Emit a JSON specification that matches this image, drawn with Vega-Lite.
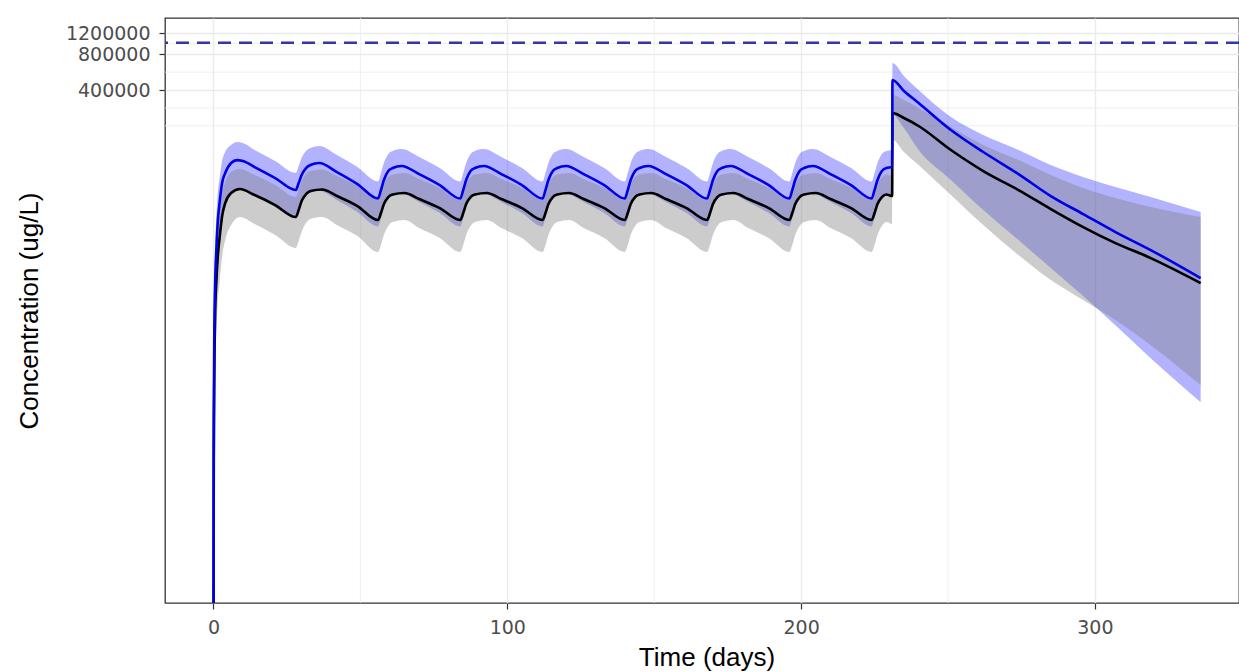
{
  "$schema": "https://vega.github.io/schema/vega-lite/v6.json",
  "width": 1074,
  "height": 585,
  "autosize": {"type": "none"},
  "padding": {"left": 165, "top": 18, "right": 0, "bottom": 69},
  "background": "white",
  "datasets": {
    "conc": [
      {"t":0,"g":"test","m":1,"lo":1,"hi":1},
      {"t":0.1,"g":"test","m":667,"lo":253,"hi":1448},
      {"t":0.3,"g":"test","m":3816,"lo":1448,"hi":8287},
      {"t":0.6,"g":"test","m":10060,"lo":3816,"hi":19820},
      {"t":1,"g":"test","m":18710,"lo":6826,"hi":35460},
      {"t":1.5,"g":"test","m":32190,"lo":12210,"hi":55390},
      {"t":2,"g":"test","m":43040,"lo":17990,"hi":69900},
      {"t":3,"g":"test","m":67220,"lo":30960,"hi":102900},
      {"t":4,"g":"test","m":80100,"lo":40620,"hi":120300},
      {"t":6,"g":"test","m":97200,"lo":53280,"hi":137700},
      {"t":8,"g":"test","m":102900,"lo":59840,"hi":146000},
      {"t":10,"g":"test","m":101000,"lo":58700,"hi":143200},
      {"t":14,"g":"test","m":89900,"lo":52260,"hi":125000},
      {"t":21,"g":"test","m":72650,"lo":41410,"hi":101000},
      {"t":28,"g":"test","m":57580,"lo":33460,"hi":80100},
      {"t":29,"g":"test","m":65930,"lo":38320,"hi":91700},
      {"t":30,"g":"test","m":77000,"lo":44750,"hi":107100},
      {"t":31.5,"g":"test","m":88200,"lo":51260,"hi":122600},
      {"t":33,"g":"test","m":93500,"lo":54320,"hi":129900},
      {"t":36,"g":"test","m":97200,"lo":56470,"hi":135100},
      {"t":42,"g":"test","m":81630,"lo":47420,"hi":113400},
      {"t":49,"g":"test","m":64660,"lo":37580,"hi":89900},
      {"t":56,"g":"test","m":48840,"lo":28380,"hi":67890},
      {"t":57,"g":"test","m":57580,"lo":33460,"hi":80100},
      {"t":58,"g":"test","m":69900,"lo":40620,"hi":97200},
      {"t":59.5,"g":"test","m":83200,"lo":48370,"hi":115700},
      {"t":61,"g":"test","m":88200,"lo":51260,"hi":122600},
      {"t":64,"g":"test","m":91700,"lo":53280,"hi":127400},
      {"t":70,"g":"test","m":78500,"lo":45620,"hi":109100},
      {"t":77,"g":"test","m":63430,"lo":36860,"hi":88200},
      {"t":84,"g":"test","m":48840,"lo":28380,"hi":67890},
      {"t":85,"g":"test","m":57580,"lo":33460,"hi":80100},
      {"t":86,"g":"test","m":69900,"lo":40620,"hi":97200},
      {"t":87.5,"g":"test","m":83200,"lo":48370,"hi":115700},
      {"t":89,"g":"test","m":88200,"lo":51260,"hi":122600},
      {"t":92,"g":"test","m":91700,"lo":53280,"hi":127400},
      {"t":98,"g":"test","m":78500,"lo":45620,"hi":109100},
      {"t":105,"g":"test","m":63430,"lo":36860,"hi":88200},
      {"t":112,"g":"test","m":48840,"lo":28380,"hi":67890},
      {"t":113,"g":"test","m":57580,"lo":33460,"hi":80100},
      {"t":114,"g":"test","m":69900,"lo":40620,"hi":97200},
      {"t":115.5,"g":"test","m":83200,"lo":48370,"hi":115700},
      {"t":117,"g":"test","m":88200,"lo":51260,"hi":122600},
      {"t":120,"g":"test","m":91700,"lo":53280,"hi":127400},
      {"t":126,"g":"test","m":78500,"lo":45620,"hi":109100},
      {"t":133,"g":"test","m":63430,"lo":36860,"hi":88200},
      {"t":140,"g":"test","m":48840,"lo":28380,"hi":67890},
      {"t":141,"g":"test","m":57580,"lo":33460,"hi":80100},
      {"t":142,"g":"test","m":69900,"lo":40620,"hi":97200},
      {"t":143.5,"g":"test","m":83200,"lo":48370,"hi":115700},
      {"t":145,"g":"test","m":88200,"lo":51260,"hi":122600},
      {"t":148,"g":"test","m":91700,"lo":53280,"hi":127400},
      {"t":154,"g":"test","m":78500,"lo":45620,"hi":109100},
      {"t":161,"g":"test","m":63430,"lo":36860,"hi":88200},
      {"t":168,"g":"test","m":48840,"lo":28380,"hi":67890},
      {"t":169,"g":"test","m":57580,"lo":33460,"hi":80100},
      {"t":170,"g":"test","m":69900,"lo":40620,"hi":97200},
      {"t":171.5,"g":"test","m":83200,"lo":48370,"hi":115700},
      {"t":173,"g":"test","m":88200,"lo":51260,"hi":122600},
      {"t":176,"g":"test","m":91700,"lo":53280,"hi":127400},
      {"t":182,"g":"test","m":78500,"lo":45620,"hi":109100},
      {"t":189,"g":"test","m":63430,"lo":36860,"hi":88200},
      {"t":196,"g":"test","m":48840,"lo":28380,"hi":67890},
      {"t":197,"g":"test","m":57580,"lo":33460,"hi":80100},
      {"t":198,"g":"test","m":69900,"lo":40620,"hi":97200},
      {"t":199.5,"g":"test","m":83200,"lo":48370,"hi":115700},
      {"t":201,"g":"test","m":88200,"lo":51260,"hi":122600},
      {"t":204,"g":"test","m":91700,"lo":53280,"hi":127400},
      {"t":210,"g":"test","m":78500,"lo":45620,"hi":109100},
      {"t":217,"g":"test","m":63430,"lo":36860,"hi":88200},
      {"t":224,"g":"test","m":48840,"lo":28380,"hi":67890},
      {"t":225,"g":"test","m":57580,"lo":33460,"hi":80100},
      {"t":226,"g":"test","m":69900,"lo":40620,"hi":97200},
      {"t":227.5,"g":"test","m":83200,"lo":48370,"hi":115700},
      {"t":229,"g":"test","m":88200,"lo":51260,"hi":122600},
      {"t":231,"g":"test","m":89900,"lo":52260,"hi":125000},
      {"t":231.1,"g":"test","m":485700,"lo":246300,"hi":675000},
      {"t":235,"g":"test","m":392300,"lo":191500,"hi":524800},
      {"t":240,"g":"test","m":310900,"lo":125000,"hi":399900},
      {"t":251,"g":"test","m":184200,"lo":69900,"hi":237000},
      {"t":262,"g":"test","m":120300,"lo":39070,"hi":167200},
      {"t":274,"g":"test","m":78500,"lo":21840,"hi":125000},
      {"t":285,"g":"test","m":51260,"lo":12690,"hi":93500},
      {"t":296,"g":"test","m":36150,"lo":7378,"hi":74060},
      {"t":307,"g":"test","m":25510,"lo":4204,"hi":61030},
      {"t":319,"g":"test","m":17990,"lo":2218,"hi":50280},
      {"t":336,"g":"test","m":10460,"lo":945,"hi":37580},

      {"t":0,"g":"ref","m":1,"lo":1,"hi":1},
      {"t":0.1,"g":"ref","m":307,"lo":142,"hi":667},
      {"t":0.3,"g":"ref","m":1758,"lo":667,"hi":3816},
      {"t":0.6,"g":"ref","m":5623,"lo":2134,"hi":10060},
      {"t":1,"g":"ref","m":10060,"lo":3816,"hi":17990},
      {"t":1.5,"g":"ref","m":16330,"lo":6826,"hi":27560},
      {"t":2,"g":"ref","m":21840,"lo":9131,"hi":35460},
      {"t":3,"g":"ref","m":35460,"lo":16330,"hi":54320},
      {"t":4,"g":"ref","m":44750,"lo":21840,"hi":67220},
      {"t":6,"g":"ref","m":54320,"lo":29220,"hi":81630},
      {"t":9,"g":"ref","m":58700,"lo":34110,"hi":86490},
      {"t":14,"g":"ref","m":52260,"lo":29790,"hi":77000},
      {"t":21,"g":"ref","m":43040,"lo":24070,"hi":63430},
      {"t":28,"g":"ref","m":34110,"lo":18710,"hi":50280},
      {"t":29,"g":"ref","m":39070,"lo":21420,"hi":57580},
      {"t":30,"g":"ref","m":46510,"lo":25510,"hi":68550},
      {"t":31.5,"g":"ref","m":53280,"lo":30370,"hi":78500},
      {"t":33,"g":"ref","m":56470,"lo":32820,"hi":83200},
      {"t":37,"g":"ref","m":58150,"lo":34110,"hi":85650},
      {"t":42,"g":"ref","m":51260,"lo":29220,"hi":75500},
      {"t":49,"g":"ref","m":42220,"lo":23600,"hi":62220},
      {"t":56,"g":"ref","m":32190,"lo":17310,"hi":47420},
      {"t":57,"g":"ref","m":36860,"lo":19820,"hi":54320},
      {"t":58,"g":"ref","m":43880,"lo":24070,"hi":64660},
      {"t":59.5,"g":"ref","m":50280,"lo":28660,"hi":74060},
      {"t":61,"g":"ref","m":52770,"lo":30960,"hi":77740},
      {"t":65,"g":"ref","m":54320,"lo":32190,"hi":80100},
      {"t":70,"g":"ref","m":48370,"lo":27560,"hi":71260},
      {"t":77,"g":"ref","m":40620,"lo":22710,"hi":59840},
      {"t":84,"g":"ref","m":32190,"lo":17310,"hi":47420},
      {"t":85,"g":"ref","m":36860,"lo":19820,"hi":54320},
      {"t":86,"g":"ref","m":43880,"lo":24070,"hi":64660},
      {"t":87.5,"g":"ref","m":50280,"lo":28660,"hi":74060},
      {"t":89,"g":"ref","m":52770,"lo":30960,"hi":77740},
      {"t":93,"g":"ref","m":54320,"lo":32190,"hi":80100},
      {"t":98,"g":"ref","m":48370,"lo":27560,"hi":71260},
      {"t":105,"g":"ref","m":40620,"lo":22710,"hi":59840},
      {"t":112,"g":"ref","m":32190,"lo":17310,"hi":47420},
      {"t":113,"g":"ref","m":36860,"lo":19820,"hi":54320},
      {"t":114,"g":"ref","m":43880,"lo":24070,"hi":64660},
      {"t":115.5,"g":"ref","m":50280,"lo":28660,"hi":74060},
      {"t":117,"g":"ref","m":52770,"lo":30960,"hi":77740},
      {"t":121,"g":"ref","m":54320,"lo":32190,"hi":80100},
      {"t":126,"g":"ref","m":48370,"lo":27560,"hi":71260},
      {"t":133,"g":"ref","m":40620,"lo":22710,"hi":59840},
      {"t":140,"g":"ref","m":32190,"lo":17310,"hi":47420},
      {"t":141,"g":"ref","m":36860,"lo":19820,"hi":54320},
      {"t":142,"g":"ref","m":43880,"lo":24070,"hi":64660},
      {"t":143.5,"g":"ref","m":50280,"lo":28660,"hi":74060},
      {"t":145,"g":"ref","m":52770,"lo":30960,"hi":77740},
      {"t":149,"g":"ref","m":54320,"lo":32190,"hi":80100},
      {"t":154,"g":"ref","m":48370,"lo":27560,"hi":71260},
      {"t":161,"g":"ref","m":40620,"lo":22710,"hi":59840},
      {"t":168,"g":"ref","m":32190,"lo":17310,"hi":47420},
      {"t":169,"g":"ref","m":36860,"lo":19820,"hi":54320},
      {"t":170,"g":"ref","m":43880,"lo":24070,"hi":64660},
      {"t":171.5,"g":"ref","m":50280,"lo":28660,"hi":74060},
      {"t":173,"g":"ref","m":52770,"lo":30960,"hi":77740},
      {"t":177,"g":"ref","m":54320,"lo":32190,"hi":80100},
      {"t":182,"g":"ref","m":48370,"lo":27560,"hi":71260},
      {"t":189,"g":"ref","m":40620,"lo":22710,"hi":59840},
      {"t":196,"g":"ref","m":32190,"lo":17310,"hi":47420},
      {"t":197,"g":"ref","m":36860,"lo":19820,"hi":54320},
      {"t":198,"g":"ref","m":43880,"lo":24070,"hi":64660},
      {"t":199.5,"g":"ref","m":50280,"lo":28660,"hi":74060},
      {"t":201,"g":"ref","m":52770,"lo":30960,"hi":77740},
      {"t":205,"g":"ref","m":54320,"lo":32190,"hi":80100},
      {"t":210,"g":"ref","m":48370,"lo":27560,"hi":71260},
      {"t":217,"g":"ref","m":40620,"lo":22710,"hi":59840},
      {"t":224,"g":"ref","m":32190,"lo":17310,"hi":47420},
      {"t":225,"g":"ref","m":36860,"lo":19820,"hi":54320},
      {"t":226,"g":"ref","m":43880,"lo":24070,"hi":64660},
      {"t":227.5,"g":"ref","m":50280,"lo":28660,"hi":74060},
      {"t":229,"g":"ref","m":52770,"lo":30960,"hi":77740},
      {"t":231,"g":"ref","m":51260,"lo":29790,"hi":75500},
      {"t":231.1,"g":"ref","m":256100,"lo":151800,"hi":363000},
      {"t":235,"g":"ref","m":232500,"lo":120300,"hi":329500},
      {"t":240,"g":"ref","m":199100,"lo":93500,"hi":282200},
      {"t":251,"g":"ref","m":125000,"lo":52260,"hi":195200},
      {"t":262,"g":"ref","m":83200,"lo":29220,"hi":137700},
      {"t":274,"g":"ref","m":57580,"lo":16330,"hi":102900},
      {"t":285,"g":"ref","m":39840,"lo":10060,"hi":77000},
      {"t":296,"g":"ref","m":28110,"lo":6826,"hi":59840},
      {"t":307,"g":"ref","m":20610,"lo":4634,"hi":49320},
      {"t":319,"g":"ref","m":15410,"lo":2853,"hi":41410},
      {"t":336,"g":"ref","m":9493,"lo":1315,"hi":34110}
    ],
    "gridx": [{"t":50},{"t":150},{"t":250}],
    "gridy": [{"m":200000},{"m":282843},{"m":565685},{"m":979796}],
    "limit": [{"m":1000000}]
  },
  "layer": [
    {
      "data": {"name": "gridx"},
      "mark": {"type": "rule", "color": "#EBEBEB", "strokeWidth": 0.8},
      "encoding": {
        "x": {"field": "t", "type": "quantitative", "scale": {"type": "linear", "domain": [-16.5, 349.05], "nice": false, "zero": false}, "axis": {"values": [0,100,200,300], "title": "Time (days)"}}
      }
    },
    {
      "data": {"name": "gridy"},
      "mark": {"type": "rule", "color": "#EBEBEB", "strokeWidth": 0.8},
      "encoding": {
        "y": {"field": "m", "type": "quantitative", "scale": {"type": "log", "domain": [19.3, 1614000], "nice": false}, "axis": {"values": [400000,800000,1200000], "format": "d", "title": "Concentration (ug/L)"}}
      }
    },
    {
      "data": {"name": "conc"},
      "transform": [{"filter": "datum.g === 'test'"}],
      "mark": {"type": "area", "color": "#0000FF", "opacity": 0.3, "clip": true, "interpolate": "monotone"},
      "encoding": {
        "x": {"field": "t", "type": "quantitative", "scale": {"type": "linear", "domain": [-16.5, 349.05], "nice": false, "zero": false}, "axis": {"values": [0,100,200,300], "title": "Time (days)"}},
        "y": {"field": "hi", "type": "quantitative", "scale": {"type": "log", "domain": [19.3, 1614000], "nice": false}, "axis": {"values": [400000,800000,1200000], "format": "d", "title": "Concentration (ug/L)"}},
        "y2": {"field": "lo"}
      }
    },
    {
      "data": {"name": "conc"},
      "transform": [{"filter": "datum.g === 'ref'"}],
      "mark": {"type": "area", "color": "#7F7F7F", "opacity": 0.4, "clip": true, "interpolate": "monotone"},
      "encoding": {
        "x": {"field": "t", "type": "quantitative", "scale": {"type": "linear", "domain": [-16.5, 349.05], "nice": false, "zero": false}, "axis": {"values": [0,100,200,300], "title": "Time (days)"}},
        "y": {"field": "hi", "type": "quantitative", "scale": {"type": "log", "domain": [19.3, 1614000], "nice": false}, "axis": {"values": [400000,800000,1200000], "format": "d", "title": "Concentration (ug/L)"}},
        "y2": {"field": "lo"}
      }
    },
    {
      "data": {"name": "conc"},
      "transform": [{"filter": "datum.g === 'ref'"}],
      "mark": {"type": "line", "color": "#000000", "strokeWidth": 2.6, "clip": true, "interpolate": "monotone"},
      "encoding": {
        "x": {"field": "t", "type": "quantitative", "scale": {"type": "linear", "domain": [-16.5, 349.05], "nice": false, "zero": false}, "axis": {"values": [0,100,200,300], "title": "Time (days)"}},
        "y": {"field": "m", "type": "quantitative", "scale": {"type": "log", "domain": [19.3, 1614000], "nice": false}, "axis": {"values": [400000,800000,1200000], "format": "d", "title": "Concentration (ug/L)"}}
      }
    },
    {
      "data": {"name": "conc"},
      "transform": [{"filter": "datum.g === 'test'"}],
      "mark": {"type": "line", "color": "#0000E6", "strokeWidth": 2.6, "clip": true, "interpolate": "monotone"},
      "encoding": {
        "x": {"field": "t", "type": "quantitative", "scale": {"type": "linear", "domain": [-16.5, 349.05], "nice": false, "zero": false}, "axis": {"values": [0,100,200,300], "title": "Time (days)"}},
        "y": {"field": "m", "type": "quantitative", "scale": {"type": "log", "domain": [19.3, 1614000], "nice": false}, "axis": {"values": [400000,800000,1200000], "format": "d", "title": "Concentration (ug/L)"}}
      }
    },
    {
      "data": {"name": "limit"},
      "mark": {"type": "rule", "color": "#3434A6", "strokeWidth": 2.6, "strokeDash": [13, 8]},
      "encoding": {
        "y": {"field": "m", "type": "quantitative", "scale": {"type": "log", "domain": [19.3, 1614000], "nice": false}, "axis": {"values": [400000,800000,1200000], "format": "d", "title": "Concentration (ug/L)"}}
      }
    }
  ],
  "config": {
    "view": {"stroke": "#333333", "strokeWidth": 1.3},
    "axis": {
      "domain": false,
      "tickColor": "#333333",
      "tickWidth": 1.2,
      "tickSize": 6,
      "labelColor": "#4D4D4D",
      "labelFont": "DejaVu Sans",
      "labelFontSize": 19,
      "labelOverlap": false,
      "titleFont": "Liberation Sans",
      "titleFontSize": 26,
      "titleFontWeight": "normal",
      "titleColor": "#000000",
      "gridColor": "#EBEBEB",
      "gridWidth": 1.4
    },
    "axisX": {"labelPadding": 9, "titleX": 541.5, "titleY": 62, "titleBaseline": "alphabetic", "titleAlign": "center"},
    "axisY": {"labelPadding": 9, "titleX": -128, "titleY": 292.5, "titleAngle": -90, "titleAlign": "center", "titleBaseline": "alphabetic"}
  }
}
